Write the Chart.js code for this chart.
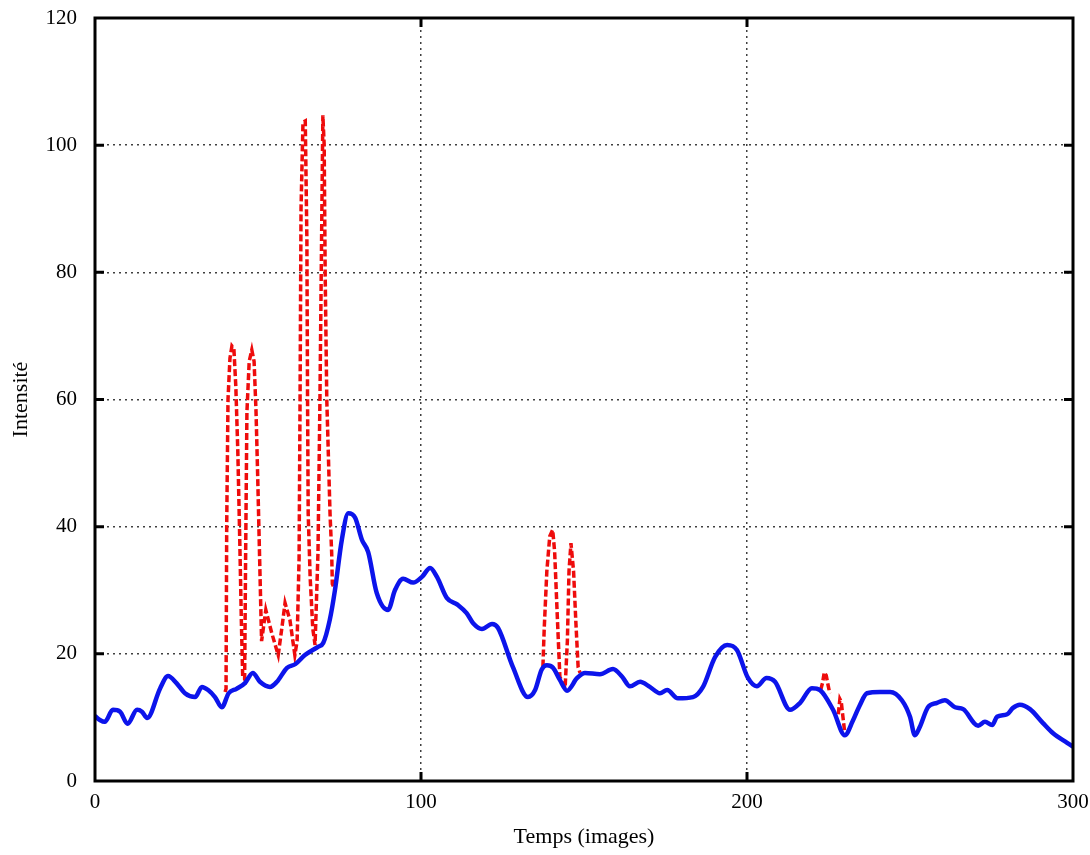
<!DOCTYPE html>
<html>
<head>
<meta charset="utf-8">
<script src="https://cdn.jsdelivr.net/npm/chart.js@4/dist/chart.umd.min.js"></script>
<style>
  body { margin: 0; background: #fff; }
  #wrap { width: 1090px; height: 855px; }
</style>
</head>
<body>
<div id="wrap"><canvas id="chart" width="1090" height="855"></canvas></div>
<script>
// filtered signal (blue, solid) - frame number / intensity
const blueX = [0, 1.5, 3, 5.5, 7.7, 10, 12.9, 14.4, 16, 20, 22.4, 25, 27.6, 30.7, 32.8, 34.7, 36.8, 38.9,
  41, 43.4, 46, 48.4, 50.6, 53.7, 55.8, 58.9, 61.5, 64.4, 68.4, 70, 72, 73.6, 75.7, 77.7, 79.8, 81.9,
  83.8, 86.4, 89.9, 92, 94.5, 97.6, 100.3, 102.8, 104.9, 107.9, 111.3, 114, 116, 118.7, 121.8, 123.6,
  128.2, 132.8, 135, 137, 138.6, 140.5, 142.6, 144.8, 147.9, 150.3, 154.9, 158.9, 161.7, 164.1, 167.2,
  170.2, 173.3, 175.5, 178.8, 183.4, 186.5, 190.2, 193.9, 196.9, 200.3, 203, 206, 208.6, 213.2, 216.3,
  219.9, 222.4, 226.4, 230, 232.5, 234.5, 236.8, 240.8, 243.9, 247.5, 250, 251.5, 253, 255.5, 258.3,
  260.7, 263.8, 266.3, 270.9, 273, 275.2, 276.7, 279.8, 281.6, 283.7, 286.8, 290.8, 293.9, 298.2, 300];
const blueY = [10.2, 9.6, 9.3, 11.2, 10.9, 9.0, 11.2, 10.9, 9.9, 14.6, 16.5, 15.4, 13.8, 13.2, 14.8, 14.3, 13.2, 11.6,
  13.8, 14.5, 15.4, 17.0, 15.6, 14.8, 15.6, 17.8, 18.4, 19.8, 21.1, 21.7, 25.3, 30.0, 37.9, 42.1, 41.4, 37.9,
  36.0, 29.6, 26.9, 30.0, 31.8, 31.2, 32.1, 33.5, 32.1, 28.8, 27.7, 26.4, 24.8, 23.9, 24.7, 24.1,
  17.9, 13.2, 14.3, 17.5, 18.2, 17.8, 15.9, 14.2, 16.2, 17.0, 16.8, 17.6, 16.4, 14.9, 15.6,
  14.8, 13.8, 14.3, 13.0, 13.2, 14.8, 19.5, 21.4, 20.6, 16.2, 14.9, 16.2, 15.6, 11.2, 12.3,
  14.6, 14.3, 11.2, 7.2, 9.5, 11.8, 13.8, 14.0, 14.0, 12.7, 10.1, 7.2, 8.5, 11.6, 12.3,
  12.7, 11.6, 11.3, 8.7, 9.3, 8.8, 10.1, 10.5, 11.5, 12.0, 11.3, 9.1, 7.5, 6.0, 5.4];

// raw signal (red, dashed) - only where it leaves the blue curve, null = gap
const redX = [39.9, 40.2, 40.4, 40.8, 41.4, 42.0, 42.6, 43.2, 43.8, 44.4, 44.9, 45.3,
  45.9, 46.2, 46.6, 47.3, 48.1, 48.8, 49.4, 49.9, 50.5, 51.1,
  52.4, 54.2, 56.2, 57.3, 58.3, 59.8, 61.3,
  62.0, 62.6, 62.9, 63.2, 63.8, 64.5, 65.0, 65.2, 65.4, 66.0, 66.8, 67.5,
  68.4, 69.0, 69.5, 69.9, 70.3, 70.6, 71.1, 72.1, 72.6, 72.8, 73.4,
  null,
  137.4, 137.8, 138.6, 139.5, 140.4, 141.0, 141.8, 142.6, 144.2, 144.9, 145.4, 146.0, 146.8, 147.5, 148.2, 148.8,
  null,
  222.6, 223.2, 223.7, 224.3, 224.9, 225.4,
  null,
  228.0, 228.5, 228.9, 229.4, 229.9];
const redY = [14.0, 14.5, 40.0, 60.0, 66.5, 68.4, 68.0, 62.0, 52.0, 38.0, 25.0, 16.5,
  16.0, 35.0, 58.0, 66.0, 67.8, 66.0, 58.0, 48.0, 35.0, 22.0,
  26.9, 23.3, 19.8, 24.0, 28.0, 25.3, 19.8,
  22.0, 35.0, 60.0, 90.0, 103.6, 103.8, 85.0, 60.0, 42.0, 32.0, 24.0, 21.4,
  35.9, 60.0, 85.0, 104.7, 100.0, 80.0, 60.0, 42.0, 35.9, 31.0, 30.3,
  null,
  18.0, 24.0, 33.0, 38.5, 39.5, 36.0, 26.0, 16.4, 14.6, 22.0, 33.0, 37.4, 33.0, 25.0, 17.9, 17.0,
  null,
  14.3, 15.5, 17.1, 16.6, 15.0, 13.8,
  null,
  10.5, 12.9, 12.5, 10.2, 8.0];

const xTicks = [0, 100, 200, 300];
const yTicks = [0, 20, 40, 60, 80, 100, 120];

const bluePts = blueX.map((x, i) => ({ x: x, y: blueY[i] }));
const redPts = redX.map((x, i) => (x === null ? { x: NaN, y: null } : { x: x, y: redY[i] }));

// box around the plot with short inward tick marks
const frame = {
  id: 'frame',
  afterDraw(chart) {
    const { ctx, chartArea: a, scales } = chart;
    ctx.save();
    ctx.strokeStyle = '#000';
    ctx.lineWidth = 3;
    ctx.strokeRect(a.left, a.top, a.right - a.left, a.bottom - a.top);
    ctx.beginPath();
    yTicks.slice(1, -1).forEach(v => {
      const y = scales.y.getPixelForValue(v);
      ctx.moveTo(a.left, y); ctx.lineTo(a.left + 9, y);
      ctx.moveTo(a.right, y); ctx.lineTo(a.right - 9, y);
    });
    xTicks.slice(1, -1).forEach(v => {
      const x = scales.x.getPixelForValue(v);
      ctx.moveTo(x, a.bottom); ctx.lineTo(x, a.bottom - 9);
      ctx.moveTo(x, a.top); ctx.lineTo(x, a.top + 9);
    });
    ctx.stroke();
    ctx.restore();
  }
};

const serif = 'Liberation Serif, Times New Roman, serif';

new Chart(document.getElementById('chart'), {
  type: 'line',
  data: {
    datasets: [
      {
        label: 'filtré',
        data: bluePts,
        borderColor: 'rgb(12,20,235)',
        borderWidth: 4.5,
        pointRadius: 0,
        cubicInterpolationMode: 'monotone',
        order: 1,
      },
      {
        label: 'brut',
        data: redPts,
        borderColor: 'rgb(238,12,12)',
        borderWidth: 3.5,
        borderDash: [7, 3],
        pointRadius: 0,
        tension: 0,
        spanGaps: false,
        order: 2,
      },
    ],
  },
  options: {
    responsive: false,
    animation: false,
    layout: { padding: { top: 18, right: 17, left: 0, bottom: 0 } },
    plugins: {
      legend: { display: false },
      tooltip: { enabled: false },
    },
    scales: {
      x: {
        type: 'linear',
        min: 0,
        max: 300,
        afterFit: s => { s.height = 74; },
        afterBuildTicks: s => { s.ticks = xTicks.map(v => ({ value: v })); },
        grid: { color: 'rgba(0,0,0,0.75)', lineWidth: 1.5, tickLength: 9, tickColor: 'rgba(0,0,0,0)' },
        border: { display: false, dash: [2, 4] },
        ticks: { padding: 0, color: '#000', font: { family: serif, size: 21 } },
        title: {
          display: true,
          text: 'Temps (images)',
          color: '#000',
          font: { family: serif, size: 22 },
          padding: { bottom: 5 },
        },
      },
      y: {
        type: 'linear',
        min: 0,
        max: 120,
        afterFit: s => { s.width = 95; },
        afterBuildTicks: s => { s.ticks = yTicks.map(v => ({ value: v })); },
        grid: { color: 'rgba(0,0,0,0.75)', lineWidth: 1.5, tickLength: 18, tickColor: 'rgba(0,0,0,0)' },
        border: { display: false, dash: [2, 4] },
        ticks: { padding: 0, color: '#000', font: { family: serif, size: 21 } },
        title: {
          display: true,
          text: 'Intensité',
          color: '#000',
          font: { family: serif, size: 22 },
          padding: { top: 8 },
        },
      },
    },
  },
  plugins: [frame],
});
</script>
</body>
</html>
